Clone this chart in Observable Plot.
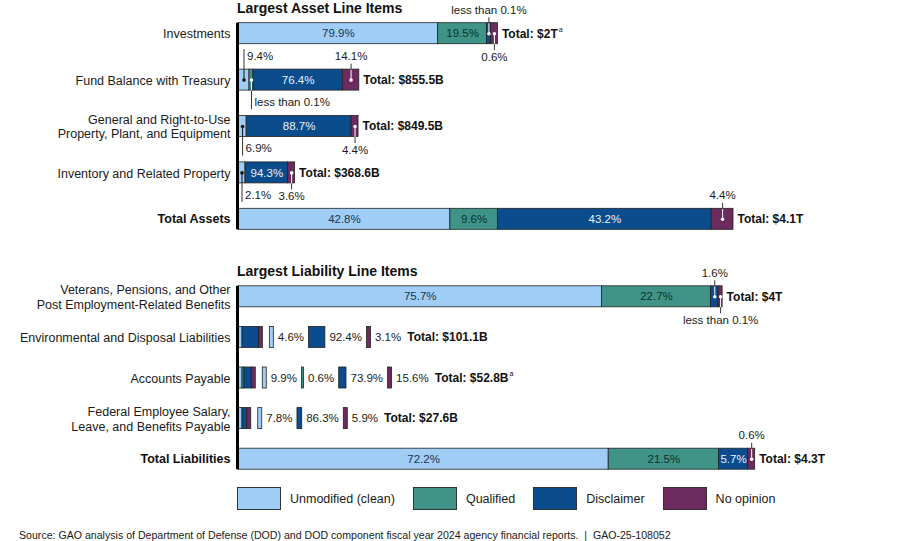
<!DOCTYPE html>
<html><head><meta charset="utf-8">
<script src="https://cdn.jsdelivr.net/npm/d3@7"></script>
<script src="https://cdn.jsdelivr.net/npm/@observablehq/plot@0.6"></script>
<style>
body{margin:0;background:#fff;font-family:"Liberation Sans",Arial,Helvetica,sans-serif;}
#wrap{position:relative;width:900px;height:541px;overflow:hidden;}
.ptitle{position:absolute;left:237px;font-weight:bold;font-size:14px;line-height:14px;color:#111;white-space:nowrap;}
.panel{position:absolute;left:0;}
#legend{position:absolute;left:237px;top:487px;display:flex;align-items:center;font-size:12.5px;color:#1a1a1a;}
#legend .item{display:flex;align-items:center;margin-right:18px;}
#legend .box{width:42px;height:21px;border:1px solid #333;margin-right:9px;}
#source{position:absolute;left:19px;top:529px;font-size:10.6px;line-height:12px;color:#1a1a1a;white-space:pre;}
</style></head><body><div id="wrap"></div>
<script>
// ---------- data ----------
const categories = ["Unmodified (clean)", "Qualified", "Disclaimer", "No opinion"];
const colors = ["#a0cdf5", "#3f9487", "#0b4c8c", "#6c2a5f"];

const assetItems = ["Investments", "Fund Balance with Treasury", "General and Right-to-Use\nProperty, Plant, and Equipment", "Inventory and Related Property", "Total Assets"];
const assetTotals = [2000, 855.5, 849.5, 368.6, 4100]; // billions of dollars
const assetTotalLabels = ["$2T", "$855.5B", "$849.5B", "$368.6B", "$4.1T"];
const assetNotes = ["a", "", "", "", ""];
const assetUnmodified = [79.9, 9.4, 6.9, 2.1, 42.8];
const assetQualified = [19.5, "<0.1", null, null, 9.6];
const assetDisclaimer = ["<0.1", 76.4, 88.7, 94.3, 43.2];
const assetNoOpinion = [0.6, 14.1, 4.4, 3.6, 4.4];

const liabItems = ["Veterans, Pensions, and Other\nPost Employment-Related Benefits", "Environmental and Disposal Liabilities", "Accounts Payable", "Federal Employee Salary,\nLeave, and Benefits Payable", "Total Liabilities"];
const liabTotals = [4000, 101.1, 52.8, 27.6, 4300];
const liabTotalLabels = ["$4T", "$101.1B", "$52.8B", "$27.6B", "$4.3T"];
const liabNotes = ["", "", "a", "", ""];
const liabUnmodified = [75.7, 4.6, 9.9, 7.8, 72.2];
const liabQualified = [22.7, null, 0.6, null, 21.5];
const liabDisclaimer = [1.6, 92.4, 73.9, 86.3, 5.7];
const liabNoOpinion = ["<0.1", 3.1, 15.6, 5.9, 0.6];

// callout placement: "row|category" -> [side, anchor]
const assetCallouts = {"0|2": ["above", "center"], "0|3": ["below", "center"], "1|0": ["above", "left"], "1|1": ["below", "left"], "1|3": ["above", "center"], "2|0": ["below", "left"], "2|3": ["below", "center"], "3|0": ["below", "left"], "3|3": ["below", "center"], "4|3": ["above", "center"]};
const liabCallouts = {"0|2": ["above", "center"], "0|3": ["below", "center"], "4|3": ["above", "center"]};

const sourceText = "Source: GAO analysis of Department of Defense (DOD) and DOD component fiscal year 2024 agency financial reports.  |  GAO-25-108052";

// ---------- helpers ----------
const FONT = "'Liberation Sans', Arial, Helvetica, sans-serif";
const PCT = 11.5;
const ctx = document.createElement("canvas").getContext("2d");
function tw(text, size, weight = "normal") { ctx.font = `${weight} ${size}px ${FONT}`; return ctx.measureText(text).width; }
const W = 495 / Math.pow(4100 / 4500, 0.9);
const xOpts = {type: "pow", exponent: 0.9, domain: [0, 4500], range: [238, 238 + W]};
const xs = Plot.scale({x: xOpts});
const inv = (px) => xs.invert(px);
const BAR_H = 21;
const INK = "#1a1a1a";
const textOn = ["#1d3352", "#10302b", "#eaf2fb", "#ffffff"];
const dotOn = ["#111", "#fff", "#fff", "#fff"];
const pctNum = (v) => v === "<0.1" ? 0.05 : v;
const pctText = (v) => v === "<0.1" ? "less than 0.1%" : `${v.toFixed(1)}%`;

function makePanel(cfg) {
  const {items, totals, totalLabels, notes, series, callouts, height, marginTop} = cfg;
  const n = items.length;
  const step = (height - marginTop) / n;
  const u = (px) => px / step;
  const hh = u(BAR_H / 2);
  const segs = [], swatches = [], inside = [], dots = [], lines = [], labC = [], labL = [], swLabels = [], totalsText = [], noteText = [];
  const x0 = xs.apply(0);
  for (let r = 0; r < n; r++) {
    const L = xs.apply(totals[r]) - x0;
    const swatchRow = totals[r] < 200;
    const parts = [];
    series.forEach((arr, c) => {
      const v = arr[r];
      if (v == null) return;
      const p = pctNum(v);
      const min = swatchRow ? (p < 1 ? 2 : 4) : (v === "<0.1" ? 4 : 7);
      const w = p / 100 * L;
      parts.push({c, v, w: w < min ? min : w, fixed: w < min});
    });
    if (!swatchRow) {
      const sum = d3.sum(parts, d => d.w);
      const flex = d3.sum(parts.filter(d => !d.fixed), d => d.w);
      const k = (flex - (sum - L)) / flex;
      parts.forEach(d => { if (!d.fixed) d.w *= k; });
    }
    let cur = x0;
    for (const d of parts) {
      d.a = cur; d.b = cur + d.w; cur = d.b;
      segs.push({x1: inv(d.a), x2: inv(d.b), y1: r - hh, y2: r + hh, fill: colors[d.c]});
    }
    const end = cur;
    let totalPx;
    if (swatchRow) {
      let cx = end + 7;
      for (const d of parts) {
        swatches.push({x1: inv(cx), x2: inv(cx + d.w), y1: r - hh, y2: r + hh, fill: colors[d.c]});
        cx += d.w + 4;
        const t = pctText(d.v);
        swLabels.push({x: inv(cx), y: r, text: t});
        cx += tw(t, PCT) + 5;
      }
      totalPx = cx + 1;
    } else {
      for (const d of parts) {
        const mid = (d.a + d.b) / 2;
        if (d.w >= 28) { inside.push({x: inv(mid), y: r, text: pctText(d.v), fill: textOn[d.c]}); continue; }
        const co = callouts[`${r}|${d.c}`];
        if (!co) continue;
        const [side, anchor] = co;
        const s = side === "above" ? -1 : 1;
        dots.push({x: inv(mid), y: r, fill: dotOn[d.c]});
        const lineEnd = anchor === "left" ? (side === "above" ? 31 : 29) : 16.5;
        lines.push({x: inv(mid), y1: r, y2: r + s * hh, stroke: dotOn[d.c]});
        lines.push({x: inv(mid), y1: r + s * hh, y2: r + s * u(lineEnd), stroke: "#333"});
        const ty = r + s * u(anchor === "left" ? (side === "above" ? 23.5 : 22) : 23.5);
        (anchor === "left" ? labL : labC).push({x: inv(mid), y: ty, text: pctText(d.v)});
      }
      totalPx = end + 4;
    }
    const tt = "Total: " + totalLabels[r];
    totalsText.push({x: inv(totalPx), y: r, text: tt});
    if (notes[r]) noteText.push({x: inv(totalPx + tw(tt, 12, "bold") + 1), y: r, text: notes[r]});
  }
  const rowLabels = items.map((t, i) => ({t, i, bold: i === n - 1}));
  return Plot.plot({
    width: 900, height, marginLeft: 238, marginRight: 900 - 238 - W, marginTop, marginBottom: 0,
    x: {...xOpts, axis: null},
    y: {type: "linear", domain: [-0.5, n - 0.5], range: [marginTop, height], axis: null},
    style: {fontFamily: FONT, overflow: "visible", background: "transparent"},
    marks: [
      Plot.rect(segs, {x1: "x1", x2: "x2", y1: "y1", y2: "y2", fill: "fill", stroke: "#222", strokeWidth: 0.8}),
      Plot.rect(swatches, {x1: "x1", x2: "x2", y1: "y1", y2: "y2", fill: "fill", stroke: "#222", strokeWidth: 0.8}),
      Plot.ruleX([0], {y1: -hh, y2: n - 1 + hh, stroke: "#000", strokeWidth: 3, dx: -1}),
      Plot.link(lines, {x1: "x", x2: "x", y1: "y1", y2: "y2", stroke: "stroke", strokeWidth: 1}),
      Plot.dot(dots, {x: "x", y: "y", r: 1.8, fill: "fill"}),
      Plot.text(inside, {x: "x", y: "y", text: "text", fill: "fill", fontSize: PCT}),
      Plot.text(labC, {x: "x", y: "y", text: "text", fill: INK, fontSize: PCT}),
      Plot.text(labL, {x: "x", y: "y", text: "text", fill: INK, fontSize: PCT, textAnchor: "start", dx: 3}),
      Plot.text(swLabels, {x: "x", y: "y", text: "text", fill: INK, fontSize: PCT, textAnchor: "start"}),
      Plot.text(totalsText, {x: "x", y: "y", text: "text", fill: "#111", fontSize: 12, fontWeight: "bold", textAnchor: "start"}),
      Plot.text(noteText, {x: "x", y: "y", text: "text", fill: "#111", fontSize: 7, textAnchor: "start", dy: -4}),
      Plot.text(rowLabels.filter(d => !d.bold), {x: d => 0, y: "i", text: "t", fill: INK, fontSize: 12.5, textAnchor: "end", dx: -8, lineHeight: 1.17}),
      Plot.text(rowLabels.filter(d => d.bold), {x: d => 0, y: "i", text: "t", fill: "#111", fontSize: 12.5, fontWeight: "bold", textAnchor: "end", dx: -8})
    ]
  });
}

// ---------- layout ----------
const wrap = document.getElementById("wrap");
function place(el, top) { const d = document.createElement("div"); d.className = "panel"; d.style.top = top + "px"; d.appendChild(el); wrap.appendChild(d); }

place(makePanel({items: assetItems, totals: assetTotals, totalLabels: assetTotalLabels, notes: assetNotes,
  series: [assetUnmodified, assetQualified, assetDisclaimer, assetNoOpinion], callouts: assetCallouts, height: 242, marginTop: 10}), 0);
place(makePanel({items: liabItems, totals: liabTotals, totalLabels: liabTotalLabels, notes: liabNotes,
  series: [liabUnmodified, liabQualified, liabDisclaimer, liabNoOpinion], callouts: liabCallouts, height: 217, marginTop: 14}), 262);

function title(text, top) { const d = document.createElement("div"); d.className = "ptitle"; d.style.top = top + "px"; d.textContent = text; wrap.appendChild(d); }
title("Largest Asset Line Items", 1);
title("Largest Liability Line Items", 264);

const legend = document.createElement("div"); legend.id = "legend";
categories.forEach((c, i) => {
  const it = document.createElement("div"); it.className = "item";
  const b = document.createElement("div"); b.className = "box"; b.style.background = colors[i];
  const s = document.createElement("span"); s.textContent = c;
  it.appendChild(b); it.appendChild(s); legend.appendChild(it);
});
wrap.appendChild(legend);
const src = document.createElement("div"); src.id = "source"; src.textContent = sourceText; wrap.appendChild(src);
</script>
</body></html>
